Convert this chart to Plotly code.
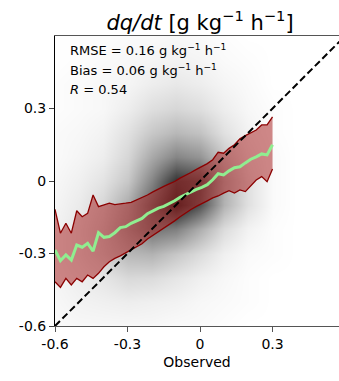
import plotly.graph_objects as go

# ---- data ----
# binned statistics (observed bin centre, median and spread of predictions)
bin_x = [-0.6, -0.5775, -0.555, -0.5325, -0.51, -0.4875, -0.465, -0.4425, -0.42, -0.3975,
         -0.375, -0.3525, -0.33, -0.3075, -0.285, -0.2625, -0.24, -0.2175, -0.195, -0.1725,
         -0.15, -0.1275, -0.105, -0.0825, -0.06, -0.0375, -0.015, 0.0075, 0.03, 0.0525,
         0.075, 0.0975, 0.12, 0.1425, 0.165, 0.1875, 0.21, 0.2325, 0.255, 0.2775, 0.3]
median = [-0.285, -0.33, -0.306, -0.327, -0.265, -0.274, -0.258, -0.29, -0.214, -0.233,
          -0.23, -0.214, -0.193, -0.189, -0.175, -0.165, -0.155, -0.135, -0.122, -0.112,
          -0.105, -0.094, -0.082, -0.067, -0.056, -0.044, -0.035, -0.026, -0.015, 0.005,
          0.030, 0.025, 0.042, 0.055, 0.059, 0.075, 0.090, 0.100, 0.112, 0.108, 0.150]
upper = [-0.117, -0.216, -0.175, -0.216, -0.123, -0.148, -0.134, -0.058, -0.106, -0.100,
         -0.092, -0.098, -0.096, -0.092, -0.088, -0.079, -0.068, -0.058, -0.045, -0.032,
         -0.022, -0.012, -0.002, 0.012, 0.022, 0.035, 0.048, 0.060, 0.072, 0.088,
         0.119, 0.115, 0.135, 0.150, 0.175, 0.188, 0.198, 0.211, 0.232, 0.232, 0.265]
lower = [-0.417, -0.44, -0.403, -0.43, -0.403, -0.417, -0.389, -0.403, -0.382, -0.355,
         -0.334, -0.32, -0.31, -0.298, -0.283, -0.272, -0.26, -0.240, -0.225, -0.212,
         -0.196, -0.180, -0.165, -0.148, -0.132, -0.118, -0.105, -0.095, -0.082, -0.070,
         -0.062, -0.050, -0.040, -0.050, -0.037, -0.044, -0.020, 0.004, 0.018, -0.003, 0.050]

# point-cloud density (darkness 0..1) on a coarse grid
dens_x = [-0.6, -0.5, -0.4, -0.3, -0.2, -0.1, 0.0, 0.1, 0.2, 0.3, 0.4, 0.5, 0.6]
dens_y = [-0.6, -0.5, -0.4, -0.3, -0.2, -0.1, 0.0, 0.1, 0.2, 0.3, 0.4, 0.5, 0.6]
density = [
    [0.02, 0.03, 0.03, 0.03, 0.03, 0.02, 0.02, 0.01, 0.00, 0.00, 0, 0, 0],
    [0.03, 0.05, 0.06, 0.07, 0.06, 0.05, 0.03, 0.02, 0.01, 0.00, 0, 0, 0],
    [0.04, 0.07, 0.10, 0.15, 0.14, 0.10, 0.06, 0.03, 0.01, 0.00, 0, 0, 0],
    [0.05, 0.10, 0.18, 0.28, 0.30, 0.22, 0.14, 0.06, 0.02, 0.01, 0, 0, 0],
    [0.05, 0.10, 0.20, 0.38, 0.55, 0.50, 0.32, 0.14, 0.05, 0.01, 0, 0, 0],
    [0.04, 0.08, 0.16, 0.33, 0.62, 0.92, 0.68, 0.30, 0.12, 0.02, 0, 0, 0],
    [0.03, 0.06, 0.11, 0.22, 0.48, 0.80, 0.72, 0.32, 0.12, 0.02, 0, 0, 0],
    [0.02, 0.04, 0.07, 0.16, 0.34, 0.48, 0.42, 0.22, 0.08, 0.02, 0, 0, 0],
    [0.02, 0.03, 0.05, 0.12, 0.22, 0.28, 0.24, 0.12, 0.05, 0.01, 0, 0, 0],
    [0.01, 0.02, 0.03, 0.07, 0.13, 0.16, 0.13, 0.07, 0.03, 0.01, 0, 0, 0],
    [0.01, 0.02, 0.03, 0.04, 0.07, 0.09, 0.07, 0.04, 0.02, 0.00, 0, 0, 0],
    [0.00, 0.01, 0.02, 0.03, 0.04, 0.05, 0.04, 0.02, 0.01, 0.00, 0, 0, 0],
    [0.00, 0.01, 0.01, 0.02, 0.02, 0.03, 0.02, 0.01, 0.00, 0.00, 0, 0, 0],
]

one_to_one = [-0.6, 0.6]
tick_vals = [-0.6, -0.3, 0, 0.3]
tick_text = ["-0.6", "-0.3", "0", "0.3"]
stats_lines = [
    "RMSE = 0.16 g kg<sup>−1</sup> h<sup>−1</sup>",
    "Bias = 0.06 g kg<sup>−1</sup> h<sup>−1</sup>",
    "<i>R</i> = 0.54",
]

FONT = "DejaVu Sans"

fig = go.Figure()

fig.add_trace(go.Heatmap(
    x=dens_x, y=dens_y, z=density, zmin=0, zmax=1, zsmooth="best",
    colorscale=[[0, "white"], [1, "black"]], showscale=False, hoverinfo="skip"))

fig.add_trace(go.Scatter(x=bin_x, y=lower, mode="lines",
                         line=dict(color="#8b0000", width=1.3), showlegend=False))
fig.add_trace(go.Scatter(x=bin_x, y=upper, mode="lines", fill="tonexty",
                         fillcolor="rgba(170,40,40,0.55)",
                         line=dict(color="#8b0000", width=1.3), showlegend=False))
fig.add_trace(go.Scatter(x=bin_x, y=median, mode="lines",
                         line=dict(color="#90ee90", width=3), showlegend=False))
fig.add_trace(go.Scatter(x=one_to_one, y=one_to_one, mode="lines",
                         line=dict(color="black", width=2, dash="7px,3.5px"), showlegend=False))

for i, t in enumerate(stats_lines):
    fig.add_annotation(x=0.045, y=0.985 - i * 0.068, xref="paper", yref="paper",
                       text=t, showarrow=False, xanchor="left", yanchor="top",
                       font=dict(family=FONT, size=13, color="black"))

fig.update_layout(
    width=339, height=381,
    margin=dict(l=55, r=0, t=36, b=55),
    paper_bgcolor="white", plot_bgcolor="white",
    font=dict(family=FONT, size=14, color="black"),
    title=dict(text="<i>dq/dt</i> [g kg<sup>−1</sup> h<sup>−1</sup>]",
               x=0.59, xanchor="center", y=0.922, yanchor="bottom",
               font=dict(family=FONT, size=21, color="black")),
    showlegend=False,
    xaxis=dict(range=[-0.6, 0.575], tickvals=tick_vals, ticktext=tick_text,
               showgrid=False, zeroline=False, showline=True, linecolor="#555",
               linewidth=1, mirror=True, ticks="outside", ticklen=5, tickcolor="#555",
               title=dict(text="Observed", font=dict(family=FONT, size=14), standoff=6)),
    yaxis=dict(range=[-0.6, 0.6], tickvals=tick_vals, ticktext=tick_text,
               showgrid=False, zeroline=False, showline=True, linecolor="black",
               linewidth=1, ticks="outside", ticklen=5),
)

fig.write_html("out.html", config={"displayModeBar": False},
               post_script="document.body.style.margin='0px';document.body.style.overflow='hidden';")
